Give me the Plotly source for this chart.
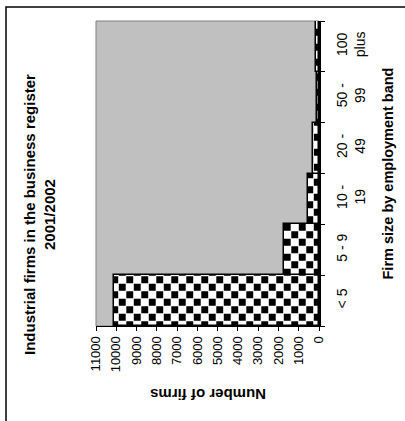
import plotly.graph_objects as go

categories = ["< 5", "5 - 9", "10 -<br>19", "20 -<br>49", "50 -<br>99", "100<br>plus"]
firms = [10100, 1720, 550, 280, 100, 130]
value_ticks = list(range(0, 11001, 1000))

W, H = 405, 421
L, R, T, B = 96, 319, 21, 326  # plot area in pixels


def px(x):
    return (x - L) / (R - L)


def py(y):
    return (B - y) / (B - T)


FONT = "Liberation Sans, Arial, sans-serif"

fig = go.Figure()
fig.add_trace(go.Bar(
    y=categories,
    x=firms,
    orientation="h",
    width=1,
    marker=dict(
        color="white",
        line=dict(color="black", width=1.5),
        pattern=dict(
            path="M0.3,0.3H7.2V7.2H0.3Z M7.8,7.8H14.7V14.7H7.8Z",
            size=15,
            fgcolor="black",
            bgcolor="white",
            fgopacity=1,
        ),
    ),
    hoverinfo="x+y",
))

fig.update_layout(
    width=W, height=H,
    margin=dict(l=L, r=W - R, t=T, b=H - B, pad=0),
    paper_bgcolor="white",
    plot_bgcolor="#c0c0c0",
    showlegend=False,
    bargap=0,
    font=dict(family=FONT, size=13, color="black"),
    xaxis=dict(
        range=[11000, 0],
        tickvals=value_ticks,
        ticktext=[str(v) for v in value_ticks],
        tickangle=-90,
        ticks="outside", ticklen=4, tickcolor="black", tickwidth=1,
        showline=True, linecolor="black", linewidth=1,
        showgrid=False, zeroline=False,
        tickfont=dict(size=13, family=FONT),
    ),
    yaxis=dict(
        type="category",
        side="right",
        tickangle=-90,
        ticks="outside", ticklen=4, tickcolor="black", tickwidth=1,
        tickson="boundaries",
        ticklabelstandoff=9,
        showline=True, linecolor="black", linewidth=1.5,
        showgrid=False, zeroline=False,
        tickfont=dict(size=14, family=FONT),
        range=[-0.5, 5.5],
    ),
    shapes=[
        dict(type="rect", xref="paper", yref="paper",
             x0=0, x1=1, y0=0, y1=1,
             line=dict(color="#808080", width=1), layer="below"),
        dict(type="rect", xref="paper", yref="paper",
             x0=px(6), x1=px(412), y0=py(430), y1=py(7),
             line=dict(color="black", width=1.5)),
    ],
    annotations=[
        dict(text="<b>Industrial firms in the business register<br>2001/2002</b>",
             xref="paper", yref="paper", x=px(39), y=py(215),
             xanchor="center", yanchor="middle", textangle=-90,
             showarrow=False, font=dict(size=15, family=FONT)),
        dict(text="<b>Firm size by employment band</b>",
             xref="paper", yref="paper", x=px(387), y=py(173.5),
             xanchor="center", yanchor="middle", textangle=-90,
             showarrow=False, font=dict(size=14.5, family=FONT)),
        dict(text="<b>Number of firms</b>",
             xref="paper", yref="paper", x=px(208), y=py(394),
             xanchor="center", yanchor="middle", textangle=180,
             showarrow=False, font=dict(size=15, family=FONT)),
    ],
)

fig.write_html("out.html")
